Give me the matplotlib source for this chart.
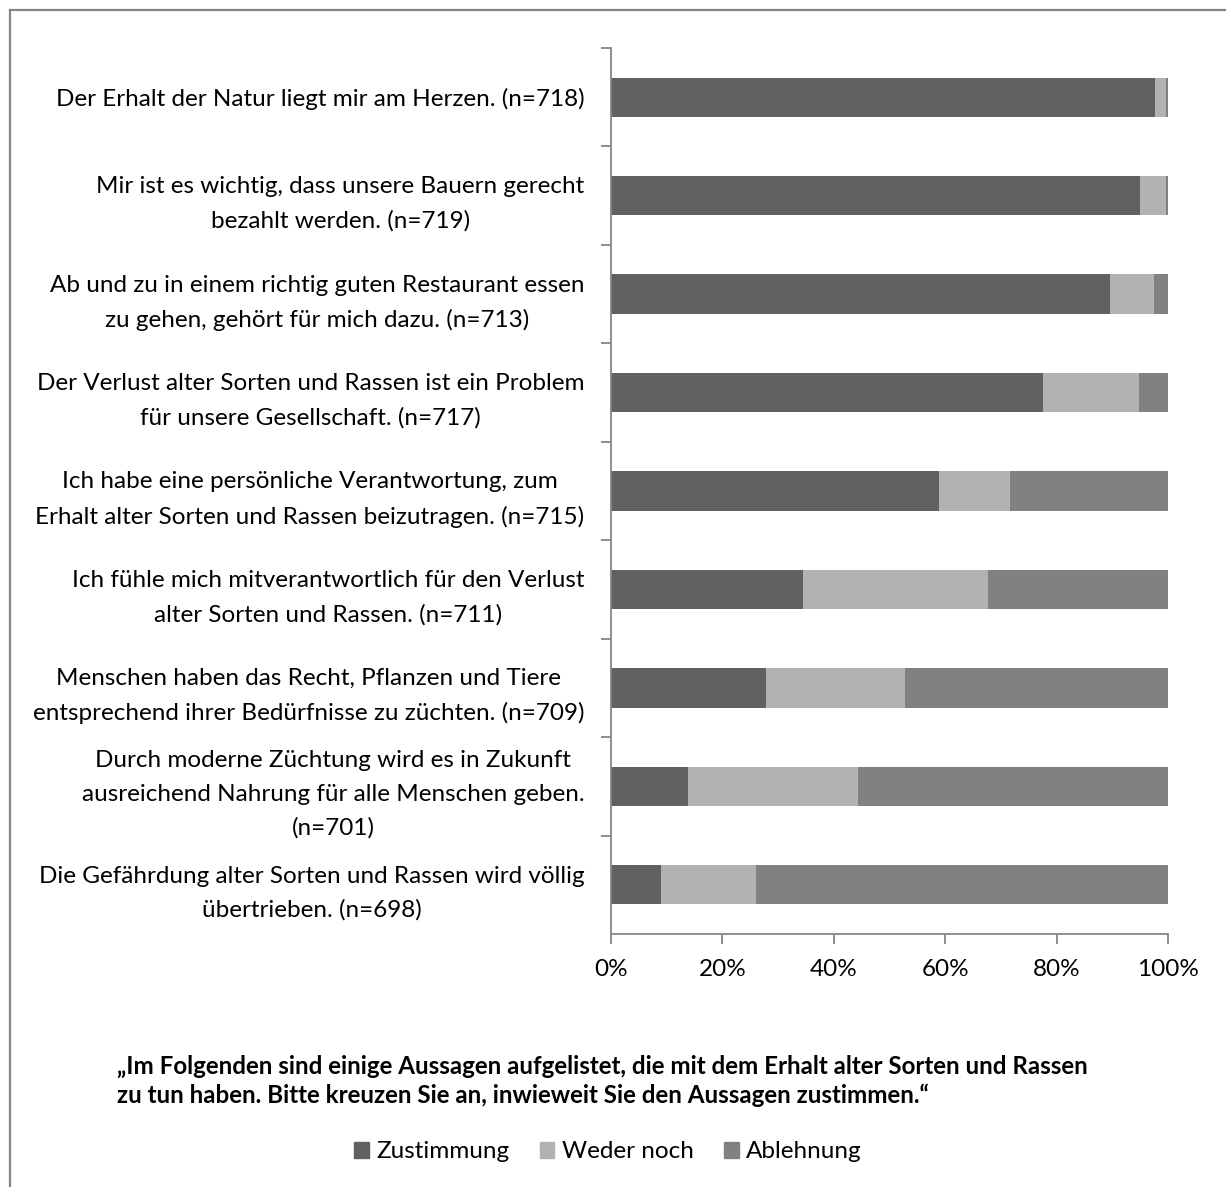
import matplotlib.pyplot as plt
from matplotlib.patches import Patch
from matplotlib.lines import Line2D

# Aussagen (von oben nach unten) und Anteile in %
aussagen = [
    "Der Erhalt der Natur liegt mir am Herzen. (n=718)",
    "Mir ist es wichtig, dass unsere Bauern gerecht\nbezahlt werden. (n=719)",
    "Ab und zu in einem richtig guten Restaurant essen\nzu gehen, gehört für mich dazu. (n=713)",
    "Der Verlust alter Sorten und Rassen ist ein Problem\nfür unsere Gesellschaft. (n=717)",
    "Ich habe eine persönliche Verantwortung, zum\nErhalt alter Sorten und Rassen beizutragen. (n=715)",
    "Ich fühle mich mitverantwortlich für den Verlust\nalter Sorten und Rassen. (n=711)",
    "Menschen haben das Recht, Pflanzen und Tiere\nentsprechend ihrer Bedürfnisse zu züchten. (n=709)",
    "Durch moderne Züchtung wird es in Zukunft\nausreichend Nahrung für alle Menschen geben.\n(n=701)",
    "Die Gefährdung alter Sorten und Rassen wird völlig\nübertrieben. (n=698)",
]
zustimmung = [97.6, 94.9, 89.6, 77.6, 58.8, 34.5, 27.9, 13.8, 9.0]
weder_noch = [2.1, 4.8, 7.8, 17.2, 12.8, 33.1, 24.9, 30.5, 17.1]
ablehnung = [0.3, 0.3, 2.6, 5.2, 28.4, 32.4, 47.2, 55.7, 73.9]
x_ticks = [0, 20, 40, 60, 80, 100]
x_ticklabels = ["0%", "20%", "40%", "60%", "80%", "100%"]
legende = ["Zustimmung", "Weder noch", "Ablehnung"]
farben = ["#616161", "#b2b2b2", "#818181"]

plt.rcParams['font.family'] = ['Lato', 'DejaVu Sans']

fig = plt.figure(figsize=(12.26, 11.87), dpi=100)
ax = fig.add_axes([611 / 1226, 1 - 934 / 1187, (1168 - 611) / 1226, (934 - 48) / 1187])

pos = list(range(len(aussagen)))
links = [0] * len(aussagen)
for werte, farbe, name in zip([zustimmung, weder_noch, ablehnung], farben, legende):
    ax.barh(pos, werte, left=links, height=0.4, color=farbe, label=name)
    links = [l + w for l, w in zip(links, werte)]

ax.set_xlim(0, 100)
ax.set_ylim(len(aussagen) - 0.5, -0.5)

# Achsen im Excel-Stil
for s in ['top', 'right']:
    ax.spines[s].set_visible(False)
for s in ['left', 'bottom']:
    ax.spines[s].set_color('#868686')
    ax.spines[s].set_linewidth(1.3)

ax.set_xticks(x_ticks)
ax.set_xticklabels(x_ticklabels, fontsize=17.5)
ax.tick_params(axis='x', length=7, width=1.3, color='#868686', pad=11)

# Striche zwischen den Kategorien, Beschriftung in der Mitte
ax.set_yticks([p + 0.5 for p in pos[:-1]] + [-0.5])
ax.set_yticklabels([])
ax.tick_params(axis='y', which='major', length=7, width=1.3, color='#868686')
ax.set_yticks(pos, minor=True)
ax.set_yticklabels(aussagen, minor=True, fontsize=17.5)
ax.tick_params(axis='y', which='minor', length=0, pad=19)
for lab in ax.get_yticklabels(minor=True):
    lab.set_multialignment('center')
    lab.set_linespacing(1.72)

# Fragetext
fig.text(117 / 1226, 1 - 1055 / 1187,
         "„Im Folgenden sind einige Aussagen aufgelistet, die mit dem Erhalt alter Sorten und Rassen\n"
         "zu tun haben. Bitte kreuzen Sie an, inwieweit Sie den Aussagen zustimmen.“",
         ha='left', va='top', fontsize=17.4, fontweight='bold', linespacing=1.28)

# Legende
griffe = [Patch(facecolor=f, edgecolor=f) for f in farben]
fig.legend(griffe, legende, loc='center', bbox_to_anchor=(608 / 1226, 1 - 1152 / 1187),
           ncol=3, frameon=False, fontsize=17.5, handlelength=0.6, handleheight=0.6,
           handletextpad=0.3, columnspacing=1.25)

# Rahmen oben und links
fig.add_artist(Line2D([10 / 1226, 10 / 1226], [0, 1 - 10 / 1187], color='#868686', lw=1.6))
fig.add_artist(Line2D([10 / 1226, 1], [1 - 10 / 1187, 1 - 10 / 1187], color='#868686', lw=1.6))

plt.savefig('out.png', dpi=100)
